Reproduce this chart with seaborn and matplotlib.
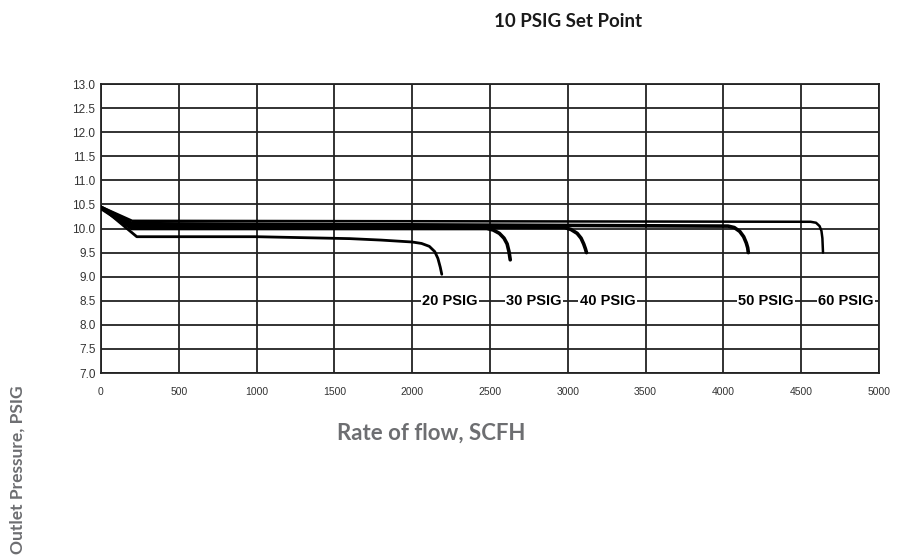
import matplotlib
matplotlib.use("Agg")
import matplotlib.pyplot as plt
import numpy as np
import pandas as pd
import seaborn as sns

# Flow (SCFH) vs outlet pressure (PSIG) for each inlet pressure
flow_20 = [0, 230, 1000, 1600, 1800, 2000, 2060, 2110, 2145, 2165, 2180, 2190]
psig_20 = [10.45, 9.83, 9.83, 9.79, 9.76, 9.72, 9.69, 9.63, 9.52, 9.38, 9.2, 9.05]

flow_30 = [0, 200, 2480, 2520, 2560, 2590, 2610, 2622, 2630]
psig_30 = [10.42, 10.0, 10.0, 9.97, 9.9, 9.8, 9.68, 9.52, 9.35]

flow_40 = [0, 200, 2980, 3020, 3060, 3085, 3102, 3113, 3120]
psig_40 = [10.43, 10.05, 10.02, 9.98, 9.9, 9.8, 9.68, 9.58, 9.5]

flow_50 = [0, 200, 4030, 4070, 4105, 4130, 4147, 4156, 4160]
psig_50 = [10.44, 10.1, 10.05, 10.02, 9.94, 9.83, 9.7, 9.6, 9.5]

flow_60 = [0, 200, 4560, 4595, 4618, 4630, 4636, 4640]
psig_60 = [10.45, 10.16, 10.14, 10.12, 10.05, 9.95, 9.8, 9.5]

labels = ["20 PSIG", "30 PSIG", "40 PSIG", "50 PSIG", "60 PSIG"]
label_x = [2243, 2783, 3257, 4274, 4788]
label_y = 8.5

series = [(flow_20, psig_20), (flow_30, psig_30), (flow_40, psig_40),
          (flow_50, psig_50), (flow_60, psig_60)]

rows = []
for name, (fx, py) in zip(labels, series):
    for a, b in zip(fx, py):
        rows.append({"flow": a, "psig": b, "inlet": name})
df = pd.DataFrame(rows)

sns.set_style("white")
plt.rcParams['font.family'] = ['Liberation Sans', 'DejaVu Sans']

fig = plt.figure(figsize=(9.05, 5.59), dpi=100)
ax = fig.add_axes([0.1116, 0.3327, 0.8597, 0.517])

widths = {"20 PSIG": 2.0, "30 PSIG": 2.6, "40 PSIG": 2.6,
          "50 PSIG": 2.6, "60 PSIG": 1.8}
for name in labels:
    sub = df[df["inlet"] == name]
    sns.lineplot(data=sub, x="flow", y="psig", ax=ax, color="black",
                 linewidth=widths[name], sort=False, estimator=None, zorder=3)

ax.set_xlim(0, 5000)
ax.set_ylim(7.0, 13.0)
ax.set_xticks(np.arange(0, 5001, 500))
ax.set_yticks(np.arange(7.0, 13.01, 0.5))
ax.set_yticklabels([f"{v:.1f}" for v in np.arange(7.0, 13.01, 0.5)])
ax.grid(True, color="#222222", linewidth=1.3)
ax.set_axisbelow(True)
for s in ax.spines.values():
    s.set_color("#222222")
    s.set_linewidth(1.3)
ax.tick_params(axis="both", colors="#333333", length=3, direction="out")
ax.tick_params(axis="y", labelsize=8.5, pad=1)
ax.tick_params(axis="x", labelsize=7.5, pad=7)
ax.set_xlabel("")
ax.set_ylabel("")

for txt, xv in zip(labels, label_x):
    ax.text(xv, label_y, txt, ha="center", va="center", fontsize=10.5,
            fontweight="bold", color="black", zorder=4,
            bbox=dict(facecolor="white", edgecolor="none", pad=1.2))

fig.text(0.628, 0.962, "10 PSIG Set Point", ha="center", va="center",
         fontsize=13.5, fontweight="bold", color="#1a1a1a", family="Lato")
fig.text(0.476, 0.2254, "Rate of flow, SCFH", ha="center", va="center",
         fontsize=16, fontweight="bold", color="#6d6e71", family="Lato")
fig.text(0.019, 0.159, "Outlet Pressure, PSIG", ha="center", va="center",
         rotation=90, fontsize=12.5, fontweight="bold", color="#6d6e71",
         family="Lato")

fig.savefig("out.png", dpi=100, facecolor="white")
